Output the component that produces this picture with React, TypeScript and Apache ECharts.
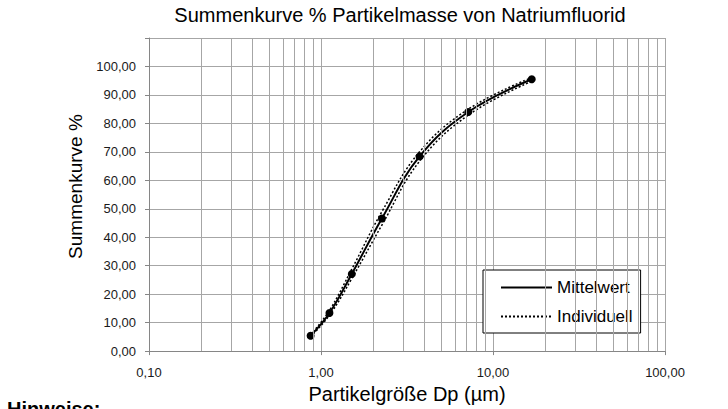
import React, { useEffect, useRef } from "react";
import * as echarts from "echarts";

const TITLE = "Summenkurve % Partikelmasse von Natriumfluorid";
const X_NAME = "Partikelgröße Dp (µm)";
const Y_NAME = "Summenkurve %";
const NOTE = "Hinweise:";

const PARTICLE_SIZE = [0.87, 1.12, 1.51, 2.26, 3.74, 7.18, 16.8];
const MEAN = [5.4, 13.4, 27.1, 46.6, 68.4, 84.0, 95.5];
const INDIVIDUAL_A = [5.7, 14.3, 28.8, 49.0, 70.0, 85.0, 96.1];
const INDIVIDUAL_B = [5.1, 12.6, 25.5, 44.3, 66.7, 82.9, 94.8];

const MINOR_X_LINES = [
  0.2, 0.3, 0.4, 0.5, 0.6, 0.7, 0.8, 0.9,
  2, 3, 4, 5, 6, 7, 8, 9,
  20, 30, 40, 50, 60, 70, 80, 90,
];

const GRID_COLOR = "#a6a6a6";
const AXIS_COLOR = "#868686";
const FONT = "'Liberation Sans', Arial, sans-serif";

const fmt = (v: number) => v.toFixed(2).replace(".", ",");

export default function App() {
  const ref = useRef<HTMLDivElement>(null);

  useEffect(() => {
    if (!ref.current) return;
    const chart = echarts.init(ref.current, undefined, { renderer: "svg" });
    const pts = (ys: number[]) => PARTICLE_SIZE.map((x, i) => [x, ys[i]]);

    chart.setOption({
      animation: false,
      backgroundColor: "#ffffff",
      title: {
        text: TITLE,
        left: 400,
        top: 5,
        textAlign: "center",
        padding: 0,
        textStyle: { fontFamily: FONT, fontSize: 20, fontWeight: "normal", color: "#000" },
      },
      grid: { left: 149, right: 63, top: 38, bottom: 53, containLabel: false },
      legend: {
        orient: "vertical",
        left: 483,
        top: 270,
        data: ["Mittelwert", "Individuell"],
        backgroundColor: "#ffffff",
        borderColor: "#000000",
        borderWidth: 1,
        borderRadius: 0,
        padding: [9, 8, 8, 17],
        itemWidth: 51,
        itemHeight: 14,
        itemGap: 12,
        itemStyle: { opacity: 0 },
        selectedMode: false,
        textStyle: { fontFamily: FONT, fontSize: 17, color: "#000" },
      },
      xAxis: {
        type: "log",
        logBase: 10,
        min: 0.1,
        max: 100,
        name: X_NAME,
        nameLocation: "middle",
        nameGap: 29,
        nameTextStyle: { fontFamily: FONT, fontSize: 20, color: "#000" },
        axisLine: { show: true, lineStyle: { color: AXIS_COLOR, width: 1 } },
        axisTick: { show: true, length: 4, lineStyle: { color: AXIS_COLOR } },
        axisLabel: {
          formatter: (v: number) => fmt(v),
          fontFamily: FONT,
          fontSize: 13,
          color: "#1a1a1a",
          margin: 15,
        },
        splitLine: { show: true, lineStyle: { color: GRID_COLOR, width: 1 } },
      },
      yAxis: {
        type: "value",
        min: 0,
        max: 110,
        interval: 10,
        name: Y_NAME,
        nameLocation: "middle",
        nameRotate: 90,
        nameGap: 53,
        nameTextStyle: { fontFamily: FONT, fontSize: 19, color: "#000", padding: [0, 0, 0, 16] },
        axisLine: { show: true, lineStyle: { color: AXIS_COLOR, width: 1 } },
        axisTick: { show: true, length: 4, lineStyle: { color: AXIS_COLOR } },
        axisLabel: {
          formatter: (v: number) => (v > 100 ? "" : fmt(v)),
          fontFamily: FONT,
          fontSize: 13,
          color: "#1a1a1a",
          margin: 13,
        },
        splitLine: { show: true, lineStyle: { color: GRID_COLOR, width: 1 } },
      },
      graphic: [
        {
          type: "text",
          left: 7,
          top: 399,
          style: { text: NOTE, fontFamily: FONT, fontSize: 20, fontWeight: "bold", fill: "#000" },
        },
      ],
      series: [
        {
          name: "Gitter",
          type: "line",
          data: pts(MEAN),
          showSymbol: false,
          symbol: "none",
          silent: true,
          z: 1,
          lineStyle: { opacity: 0, width: 0 },
          markLine: {
            silent: true,
            symbol: ["none", "none"],
            label: { show: false },
            lineStyle: { color: GRID_COLOR, width: 1, type: "solid" },
            emphasis: { disabled: true },
            data: MINOR_X_LINES.map((v) => ({ xAxis: v })),
          },
        },
        {
          name: "Individuell",
          type: "line",
          data: pts(INDIVIDUAL_A),
          smooth: 0.4,
          symbol: "none",
          z: 3,
          lineStyle: { color: "#000", width: 1.5, type: [2, 2] },
          itemStyle: { color: "#000" },
        },
        {
          name: "Individuell",
          type: "line",
          data: pts(INDIVIDUAL_B),
          smooth: 0.4,
          symbol: "none",
          z: 3,
          lineStyle: { color: "#000", width: 1.5, type: [2, 2] },
          itemStyle: { color: "#000" },
        },
        {
          name: "Mittelwert",
          type: "line",
          data: pts(MEAN),
          smooth: 0.4,
          symbol: "circle",
          symbolSize: 8,
          z: 4,
          lineStyle: { color: "#000", width: 2 },
          itemStyle: { color: "#000" },
        },
      ],
    });

    return () => chart.dispose();
  }, []);

  return (
    <div
      ref={ref}
      style={{ position: "fixed", left: 0, top: 0, width: 728, height: 409 }}
    />
  );
}
